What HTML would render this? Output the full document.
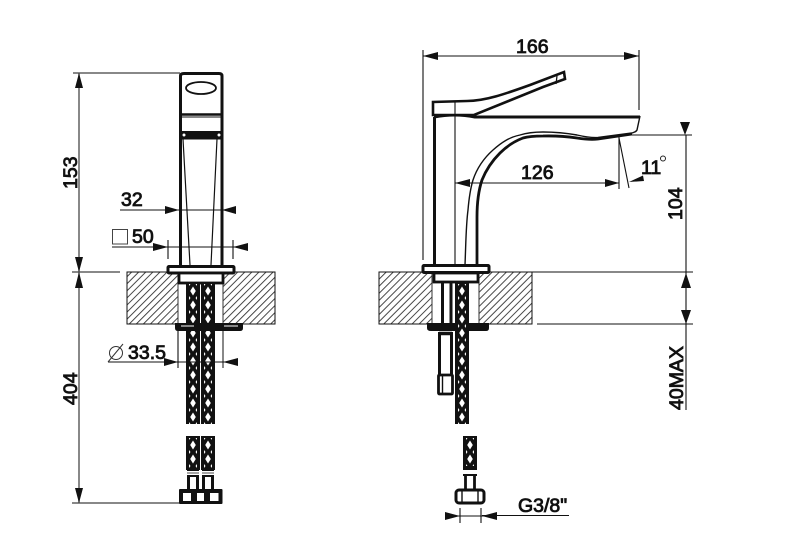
<!DOCTYPE html>
<html><head><meta charset="utf-8"><style>
html,body{margin:0;padding:0;background:#fff;width:799px;height:550px;overflow:hidden}
svg{display:block;filter:blur(.35px)}
text{font-family:"Liberation Sans",sans-serif;font-size:19.5px;fill:#111;stroke:#111;stroke-width:.85px}
</style></head><body>
<svg width="799" height="550" viewBox="0 0 799 550" xmlns="http://www.w3.org/2000/svg">
<defs>
<pattern id="h" width="5" height="5" patternUnits="userSpaceOnUse" patternTransform="rotate(45)"><rect width="5" height="5" fill="#fff"/><line x1="0" y1="0" x2="0" y2="5" stroke="#333" stroke-width="1.800"/></pattern>
<pattern id="b" x="0" y="0" width="8" height="14" patternUnits="userSpaceOnUse"><rect width="8" height="14" fill="#111"/><path d="M4 2.500L6.800 7L4 11.500L1.200 7Z" fill="#fff"/><path d="M0 0L1.500 0L0 2ZM8 0L6.500 0L8 2ZM0 14L1.500 14L0 12ZM8 14L6.500 14L8 12Z" fill="#fff"/></pattern>
</defs>
<g fill="none" stroke="#111" stroke-width="1">
<!-- counters -->
<rect x="127" y="272" width="148" height="52" fill="url(#h)" stroke="#111"/>
<rect x="379" y="272" width="153" height="52" fill="url(#h)" stroke="#111"/>
<rect x="178" y="272" width="45" height="52" fill="#fff" stroke="none"/>
<rect x="432" y="272" width="47" height="52" fill="#fff" stroke="none"/>
<path d="M178 272V324M223 272V324M432 272V324M479 272V324" stroke="#333"/>

<!-- LEFT VIEW body -->
<path d="M180.500 266V76Q180.500 73.500 184 73.500H219Q222 73.500 222 76V266" stroke-width="3"/>
<path d="M181 114.500H222" stroke-width="2.400"/>
<path d="M181 117H222" stroke-width="1"/>
<ellipse cx="201" cy="88" rx="15" ry="6" stroke-width="1.800"/>
<rect x="181" y="131" width="41" height="8.500" fill="#111" stroke="none"/>
<circle cx="184" cy="135" r="1.500" fill="#fff" stroke="none"/><circle cx="219" cy="135" r="1.500" fill="#fff" stroke="none"/>
<path d="M183 139L190 265M217 139L211 265" stroke-width="1.200"/>
<rect x="168" y="266.500" width="66" height="6.500" rx="1" stroke-width="3" fill="#fff"/>
<rect x="179" y="273" width="44" height="10" fill="#fff" stroke-width="2.800"/>

<!-- left hoses -->
<g stroke="none">
<rect x="186" y="283" width="14" height="141" fill="#111"/><rect x="201" y="283" width="14" height="141" fill="#111"/>
<g transform="translate(189,284)"><rect width="8" height="140" fill="url(#b)"/></g>
<g transform="translate(204,284)"><rect width="8" height="140" fill="url(#b)"/></g>
<rect x="186" y="436" width="14" height="34" fill="#111"/><rect x="201" y="436" width="14" height="34" fill="#111"/>
<g transform="translate(189,438)"><rect width="8" height="30" fill="url(#b)"/></g>
<g transform="translate(204,438)"><rect width="8" height="30" fill="url(#b)"/></g>
</g>
<path d="M187 470H199M187 476H199M202 470H214M202 476H214" stroke-width="2"/>
<path d="M187 473H199M202 473H214" stroke="#888" stroke-width="1.400"/>
<path d="M188.500 476V489M197.500 476V489M203.500 476V489M212.500 476V489" stroke-width="3"/>
<rect x="179" y="489" width="43.500" height="15" rx="1" fill="#111" stroke="none"/>
<rect x="183" y="493" width="8" height="8" fill="#fff" stroke="none"/>
<rect x="197" y="493" width="7" height="8" fill="#fff" stroke="none"/>
<rect x="210" y="493" width="8.500" height="8" fill="#fff" stroke="none"/>
<!-- left lower flange -->
<path d="M175 323H243V328Q243 331 240 331H178Q175 331 175 328Z" fill="#111" stroke="none"/>
<path d="M181 326H194M224 326H238" stroke="#fff" stroke-width=".9"/>
<path d="M178 331V368M223 331V368" stroke="#111"/>

<!-- RIGHT VIEW faucet -->
<path d="M465 265C466 240 466 225 468 210C469 198 470 190 473 180C477 168 484 158 493 150C502 142 510 137 520 135C528 132.500 535 132 543 132Q560 132 577 135Q590 138 598 137.500L632 133Q636 132 637 130L640 116" stroke-width="1.400"/>
<path d="M477 265V217C477 205 478 192 482 180C486 170 492 161 500 153C507 146 515 141 523 138C530 136 537 136 543 136Q560 135.500 577 138Q590 140 598 139L632 134" stroke-width="2.800"/>
<path d="M434.500 265V117" stroke-width="3"/>
<path d="M434 117Q455 113 475 117H640" stroke-width="3"/>
<path d="M433 102L433 115H474L543 87L565 79L564 72L530 85C505 94 485 101 467 101Z" fill="#fff" stroke-width="2.600"/>
<path d="M455 102V266" stroke-width="1.100"/>
<path d="M557 76L556 84" stroke-width="1.200"/>
<rect x="423" y="265.500" width="66" height="7" rx="1" fill="#fff" stroke-width="3"/>
<rect x="434" y="273" width="44" height="9" fill="#fff" stroke-width="2.800"/>
<path d="M442.500 283V323M451 283V323" stroke-width="3"/>
<path d="M427 323H489V328Q489 331 486 331H431Q427 331 427 328Z" fill="#111" stroke="none"/>
<path d="M439.500 332V374M451.500 332V374" stroke-width="3"/>
<path d="M439 333.500H452" stroke-width="3.500"/>
<rect x="438.500" y="375" width="14" height="19" rx="1" fill="#fff" stroke-width="2.800"/>
<path d="M442.500 375V394" stroke-width="1.400"/>
<g stroke="none">
<rect x="455" y="283" width="14" height="141" fill="#111"/>
<g transform="translate(458,284)"><rect width="8" height="140" fill="url(#b)"/></g>
<rect x="463" y="436" width="14" height="32" fill="#111"/>
<g transform="translate(466,438)"><rect width="8" height="28" fill="url(#b)"/></g>
</g>
<path d="M463 469H477M463 475H477" stroke-width="2"/>
<path d="M465.500 476V490M474.500 476V490" stroke-width="2.800"/>
<rect x="456" y="490" width="28" height="13" rx="3" fill="#fff" stroke-width="3"/>
<path d="M462 490V503M478 490V503" stroke-width="1.400"/>

<!-- dim lines -->
<g stroke="#111" stroke-width="1.100">
<path d="M73 73H180M72 272H120M72 503H180" />
<path d="M79 73V503" stroke="#555" stroke-width="1.400"/>
<path d="M120 210H236M112 247H248M168 240V259M233 240V259" />
<path d="M108 362H238M178 331V368"/>
<path d="M423 50V260M639 50V110M423 56H639"/>
<path d="M455 183H619M619 137V189M619 138L629 188"/>
<path d="M618 135H692M686 135V410" />
<path d="M532 272H693M537 324H693" />
<path d="M482 515.500H569M445 516H497M460 508V523M481 508V523" />
</g>
<rect x="112.500" y="229.500" width="15" height="14.500" stroke="#444"/>
<circle cx="116" cy="353" r="6.500" stroke="#333"/><path d="M108 362L123 344" stroke="#333"/>
</g>

<!-- arrowheads -->
<g fill="#111">
<path d="M79 73L75 88H83ZM79 272L75 257H83ZM79 272L75 288H83ZM79 503L75 488H83Z"/>
<path d="M179 210L165 206V214ZM222 210L236 206V214Z"/>
<path d="M168 247L153 243V251ZM233 247L248 243V251Z"/>
<path d="M178 362L164 358V366ZM223 362L238 358V366Z"/>
<path d="M423 56L438 52V60ZM639 56L624 52V60Z"/>
<path d="M455 183L470 179V187ZM619 183L605 179V187Z"/>
<path d="M629 182L643 175.500L644 181Z"/>
<path d="M685 135L680 122H690ZM686 273L681 288H691ZM686 324L681 310H691Z"/>
<path d="M460 516L445 512V520ZM482 516L497 512V520Z"/>
</g>

<!-- labels -->
<text x="121" y="206">32</text>
<text x="132" y="243">50</text>
<text x="128" y="359">33.5</text>
<text x="516" y="53">166</text>
<text x="521" y="179">126</text>
<text x="641" y="174">11</text>
<circle cx="663" cy="158.500" r="2.500" fill="none" stroke="#222"/>
<text x="518" y="512">G3/8"</text>
<text transform="translate(77,189) rotate(-90)">153</text>
<text transform="translate(77,405) rotate(-90)">404</text>
<text transform="translate(682,220) rotate(-90)">104</text>
<text transform="translate(683,410) rotate(-90)">40MAX</text>
</svg>
</body></html>
